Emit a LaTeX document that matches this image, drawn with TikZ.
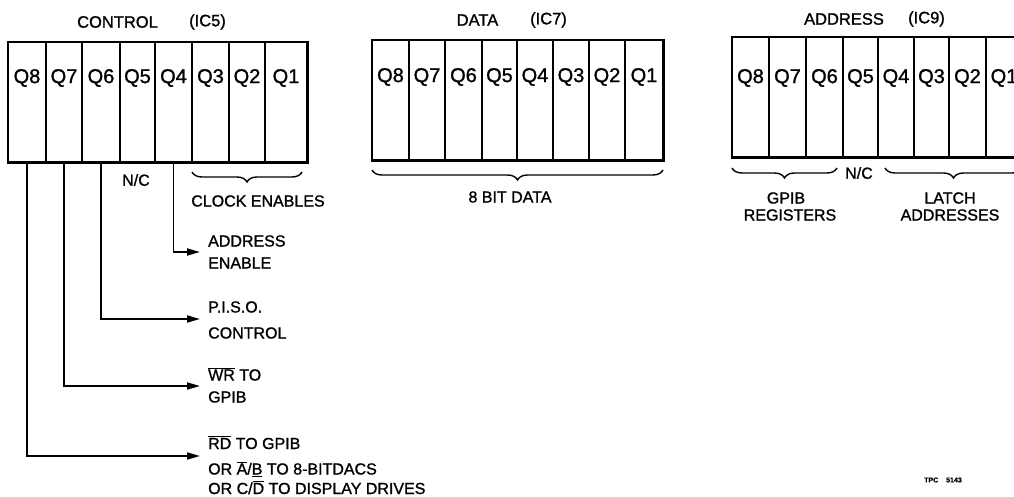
\documentclass[tikz,border=0pt]{standalone}
\usepackage{fontspec}
\setmainfont{Liberation Sans}[FakeBold=1.2]
\usetikzlibrary{decorations.pathreplacing,arrows.meta}
\newcommand\ovl[1]{$\overline{\mbox{#1}}$}
\begin{document}
\begin{tikzpicture}[x=1pt,y=-1pt,
  cell/.style={draw, line width=1.1pt, minimum height=120pt, inner sep=0pt},
  qlab/.style={font=\fontsize{20}{24}\selectfont, inner sep=0pt},
  ttl/.style={font=\fontsize{16.5}{20}\selectfont, inner sep=0pt},
  lab/.style={font=\fontsize{16}{19}\selectfont, inner sep=0pt, anchor=base west},
  clab/.style={font=\fontsize{16}{19}\selectfont, inner sep=0pt},
  frame/.style={line width=1.6pt},
  heavy/.style={line width=3.6pt},
  wire/.style={line width=1.8pt, -{Triangle[length=13pt,width=7pt]}},
  brc/.style={decorate, decoration={brace, mirror, amplitude=10pt}, line width=1.4pt},
]
\useasboundingbox (0,0) rectangle (1014,497);
\clip (0,0) rectangle (1014,497);

% titles
\node[ttl] (t1a) at (117.5,22) {CONTROL};
\node[ttl] (t1b) at (207.5,22) {(IC5)};
\node[ttl] (t2a) at (477.5,20) {DATA};
\node[ttl] (t2b) at (548.5,20) {(IC7)};
\node[ttl] (t3a) at (844,19) {ADDRESS};
\node[ttl] (t3b) at (926.5,19) {(IC9)};

% control register
\foreach \n/\a/\b in {8/8/46,7/46/82,6/82/120,5/120/155,4/155/192,3/192/229,2/229/265,1/265/307}{
  \node[cell, minimum width={(\b-\a)*1pt}] (c\n) at ({(\a+\b)/2},102) {};
  \node[qlab] (cq\n) at ({(\a+\b)/2},78) {Q\n};
}
\draw[frame] (c8.north west) rectangle (c1.south east);
\draw[heavy] (c8.south west) -- (c1.south east) -- (c1.north east);

% data register
\foreach \n/\a/\b in {8/372/409,7/409/445,6/445/482,5/482/517,4/517/553,3/553/589,2/589/625,1/625/663}{
  \node[cell, minimum width={(\b-\a)*1pt}] (d\n) at ({(\a+\b)/2},100) {};
  \node[qlab] (dq\n) at ({(\a+\b)/2},77) {Q\n};
}
\draw[frame] (d8.north west) rectangle (d1.south east);
\draw[heavy] (d8.south west) -- (d1.south east) -- (d1.north east);

% address register
\foreach \n/\a/\b in {8/732/769,7/769/806,6/806/843,5/843/878,4/878/914,3/914/949,2/949/986,1/986/1022}{
  \node[cell, minimum width={(\b-\a)*1pt}] (a\n) at ({(\a+\b)/2},97) {};
  \node[qlab] (aq\n) at ({(\a+\b)/2},78) {Q\n};
}
\draw[frame] (a8.north west) rectangle (a1.south east);
\draw[heavy] (a8.south west) -- (a1.south east) -- (a1.north east);

% braces and their texts
\draw[brc] (192,172) -- (302,172);
\draw[brc] (372,170) -- (663,170);
\draw[brc] (732,168) -- (837,168);
\draw[brc] (885,168) -- (1022,168);
\node[clab] (nc1) at (136,180) {N/C};
\node[clab] (ce) at (258,201) {CLOCK ENABLES};
\node[clab] (bd) at (510,197) {8 BIT DATA};
\node[clab] (nc2) at (859,173) {N/C};
\node[clab] (gp1) at (786,198) {GPIB};
\node[clab] (gp2) at (790,215) {REGISTERS};
\node[clab] (la1) at (950,198) {LATCH};
\node[clab] (la2) at (950,215) {ADDRESSES};

% output connectors
\coordinate (tA) at (200,252);
\coordinate (tB) at (200,319);
\coordinate (tC) at (200,386);
\coordinate (tD) at (200,456);
\draw[wire] (c4.south) |- (tA);
\draw[wire] (c6.south) |- (tB);
\draw[wire] (c7.south) |- (tC);
\draw[wire] (c8.south) |- (tD);

\node[lab] (lA1) at (208,246.5) {ADDRESS};
\node[lab] (lA2) at (208,268.5) {ENABLE};
\node[lab] (lB1) at (208,312.5) {P.I.S.O.};
\node[lab] (lB2) at (208,338.5) {CONTROL};
\node[lab] (lC1) at (208,380.5) {\ovl{WR} TO};
\node[lab] (lC2) at (208,402.5) {GPIB};
\node[lab] (lD1) at (208,449) {\ovl{RD} TO GPIB};
\node[lab] (lD2) at (208,474.5) {OR \ovl{A}/\underline{B} TO 8-BITDACS};
\node[lab] (lD3) at (208,494) {OR C/\ovl{D} TO DISPLAY DRIVES};

\node[font=\fontsize{7}{8}\selectfont\bfseries, inner sep=0pt] (tpc) at (943,480) {TPC\hspace{8pt}5143};
\end{tikzpicture}
\end{document}
